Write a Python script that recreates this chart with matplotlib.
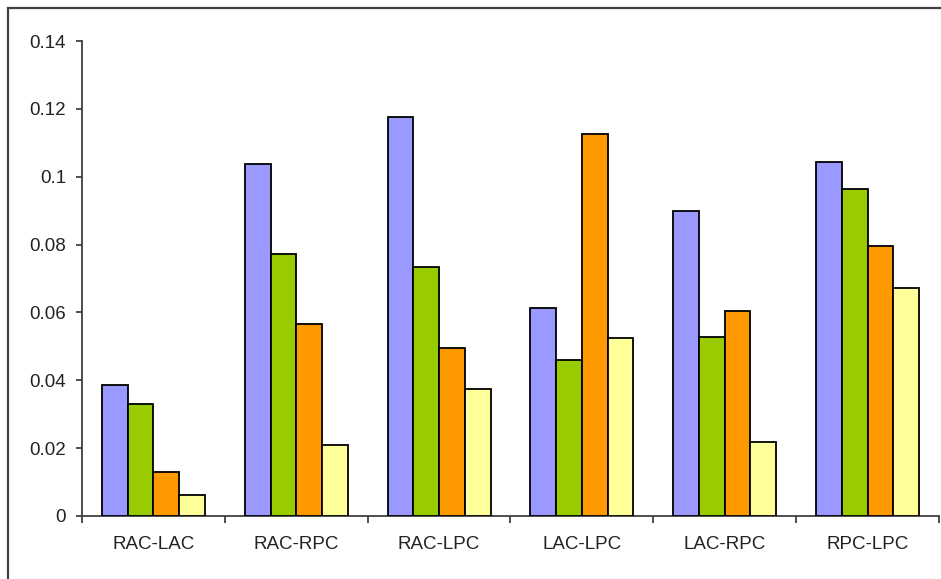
import numpy as np
import matplotlib.pyplot as plt
import matplotlib.patches as mpatches
from matplotlib.ticker import FixedLocator, NullFormatter

# Pairwise values for each region pair, four conditions per pair
pairs = ["RAC-LAC", "RAC-RPC", "RAC-LPC", "LAC-LPC", "LAC-RPC", "RPC-LPC"]
series_1 = [0.0387, 0.1037, 0.1176, 0.0613, 0.0899, 0.1043]
series_2 = [0.0331, 0.0772, 0.0734, 0.0460, 0.0528, 0.0964]
series_3 = [0.0131, 0.0566, 0.0495, 0.1126, 0.0604, 0.0796]
series_4 = [0.0061, 0.0209, 0.0374, 0.0525, 0.0218, 0.0672]
y_ticks = [0, 0.02, 0.04, 0.06, 0.08, 0.1, 0.12, 0.14]

colors = ["#9999FF", "#99CC00", "#FF9900", "#FFFF99"]
all_series = [series_1, series_2, series_3, series_4]

plt.rcParams["font.family"] = ["Liberation Sans", "DejaVu Sans"]

W, H = 941, 579
fig = plt.figure(figsize=(W / 100, H / 100), dpi=100)
ax = fig.add_axes([82 / W, 1 - 516 / H, (939 - 82) / W, (516 - 41) / H])

x = np.arange(len(pairs))
bar_w = 0.18
for i, (vals, c) in enumerate(zip(all_series, colors)):
    offset = (i - 1.5) * bar_w
    ax.bar(x + offset, vals, width=bar_w, color=c, edgecolor="black",
           linewidth=1.3, zorder=3)

ax.set_xlim(-0.5, len(pairs) - 0.5)
ax.set_ylim(0, 0.14)
ax.set_yticks(y_ticks)
ax.set_yticklabels(["0", "0.02", "0.04", "0.06", "0.08", "0.1", "0.12", "0.14"])

# category labels centred, tick marks at group boundaries
ax.set_xticks(x)
ax.set_xticklabels(pairs)
ax.xaxis.set_minor_locator(FixedLocator(np.arange(-0.5, len(pairs), 1.0)))
ax.xaxis.set_minor_formatter(NullFormatter())
ax.tick_params(axis="x", which="major", length=0, pad=14.5, labelsize=13.5,
               colors="#222222")
ax.tick_params(axis="x", which="minor", length=5, width=1.3, color="#404040",
               direction="out")
ax.tick_params(axis="y", length=4.5, width=1.3, color="#404040", pad=7,
               labelsize=13.5, labelcolor="#222222", direction="out")

for side in ["top", "right"]:
    ax.spines[side].set_visible(False)
for side in ["left", "bottom"]:
    ax.spines[side].set_color("#404040")
    ax.spines[side].set_linewidth(1.3)

# chart area border
fig.patches.append(mpatches.Rectangle((8 / W, -0.1), 1.2, 1 - 8 / H + 0.1,
                                      transform=fig.transFigure, fill=False,
                                      edgecolor="#404040", linewidth=1.6))

fig.savefig("out.png", dpi=100)
